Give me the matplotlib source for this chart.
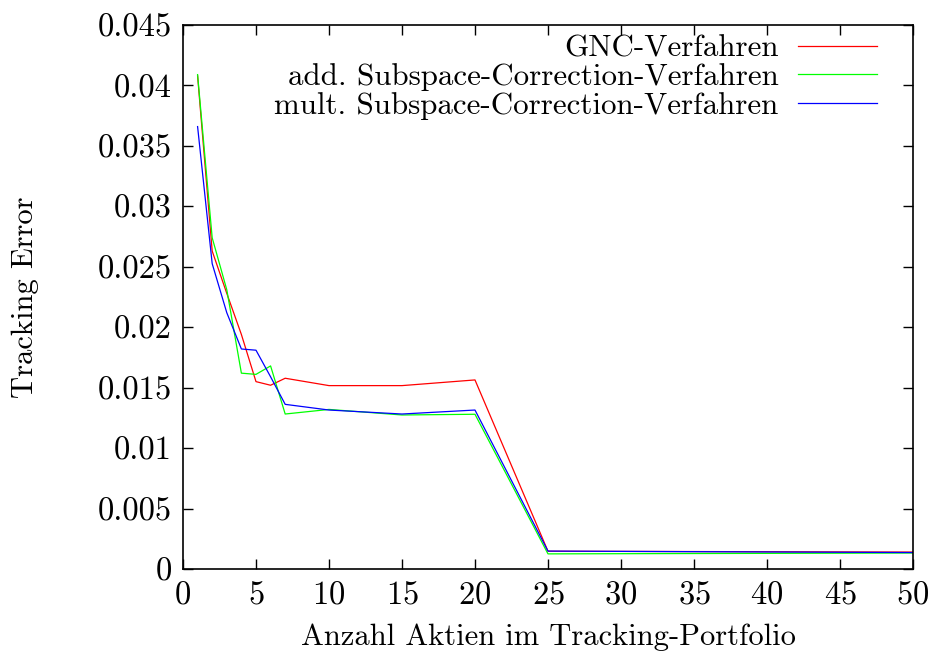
import matplotlib
matplotlib.use('Agg')
import matplotlib.pyplot as plt
from matplotlib.ticker import FuncFormatter

plt.rcParams['font.family'] = ['cmr10', 'DejaVu Serif']
plt.rcParams['axes.formatter.use_mathtext'] = True

# Number of stocks in the tracking portfolio
anzahl = [1, 2, 3, 4, 5, 6, 7, 10, 15, 20, 25, 50]

gnc = [0.0408, 0.0263, 0.0228, 0.0194, 0.0155, 0.0152, 0.01578,
       0.01517, 0.01517, 0.01564, 0.00147, 0.00140]
add_sc = [0.0409, 0.0274, 0.0231, 0.0162, 0.0161, 0.0168, 0.01282,
          0.0132, 0.01274, 0.0128, 0.00125, 0.00132]
mult_sc = [0.0366, 0.02526, 0.0212, 0.0182, 0.0181, 0.0159, 0.01362,
           0.01315, 0.01282, 0.01315, 0.00148, 0.00136]

labels = ['GNC-Verfahren',
          'add. Subspace-Correction-Verfahren',
          'mult. Subspace-Correction-Verfahren']

fig = plt.figure(figsize=(9.36, 6.59), dpi=100)
ax = fig.add_axes([0.1955, 0.1366, 0.7799, 0.8254])

ax.plot(anzahl, gnc, color='#ff0000', lw=0.9, label=labels[0])
ax.plot(anzahl, add_sc, color='#00ff00', lw=0.9, label=labels[1])
ax.plot(anzahl, mult_sc, color='#0000ff', lw=0.9, label=labels[2])

ax.set_xlim(0, 50)
ax.set_ylim(0, 0.045)
ax.set_xticks(range(0, 51, 5))
ax.set_yticks([i * 0.005 for i in range(10)])
ax.yaxis.set_major_formatter(FuncFormatter(lambda v, p: '%g' % round(v, 4)))

ax.tick_params(direction='in', length=7, width=1, top=True, right=True,
               labelsize=23.5, pad=8)
for s in ax.spines.values():
    s.set_linewidth(1.2)

ax.set_xlabel('Anzahl Aktien im Tracking-Portfolio', fontsize=22, labelpad=10)
ax.set_ylabel('Tracking Error', fontsize=22, labelpad=42)

ax.legend(loc='upper right', frameon=False, markerfirst=False, fontsize=22.3,
          handlelength=2.56, handletextpad=0.62, labelspacing=0.02,
          borderaxespad=0.0, borderpad=0.2, bbox_to_anchor=(0.959, 0.994))

fig.savefig('out.png', dpi=100)
